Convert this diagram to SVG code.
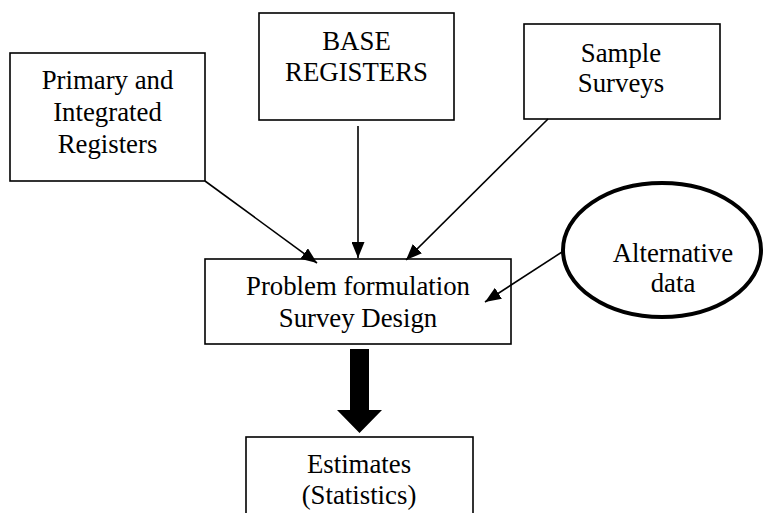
<svg xmlns="http://www.w3.org/2000/svg" width="765" height="513" viewBox="0 0 765 513">
<style>
.box{fill:#fff;stroke:#000;stroke-width:1.6}
.t{font-family:"Liberation Serif","Times New Roman","DejaVu Serif",serif;font-size:26.8px;fill:#000;text-anchor:middle}
.c{stroke:#000;stroke-width:1.6;fill:none;marker-end:url(#ah)}
</style>
<defs>
<marker id="ah" viewBox="0 0 16 13" refX="16" refY="6.5" markerWidth="16" markerHeight="13" markerUnits="userSpaceOnUse" orient="auto">
<path d="M0,0 L16,6.5 L0,13 Z" fill="#000"/>
</marker>
</defs>
<rect width="765" height="513" fill="#fff"/>
<g id="primary">
<rect class="box" x="10" y="53" width="195" height="128"/>
<text class="t" x="107.5" y="89">Primary and</text>
<text class="t" x="107.5" y="121">Integrated</text>
<text class="t" x="107.5" y="153">Registers</text>
</g>
<g id="base">
<rect class="box" x="259" y="13" width="195" height="107"/>
<text class="t" x="356.5" y="50">BASE</text>
<text class="t" x="356.5" y="81">REGISTERS</text>
</g>
<g id="sample">
<rect class="box" x="524" y="24" width="196" height="95"/>
<text class="t" x="621" y="62">Sample</text>
<text class="t" x="621" y="92">Surveys</text>
</g>
<g id="alternative">
<ellipse cx="662" cy="250" rx="99" ry="67" fill="#fff" stroke="#000" stroke-width="4"/>
<text class="t" x="673" y="262">Alternative</text>
<text class="t" x="673" y="292">data</text>
</g>
<g id="problem">
<rect class="box" x="205" y="259" width="306" height="85"/>
<text class="t" x="358" y="295">Problem formulation</text>
<text class="t" x="358" y="327">Survey Design</text>
</g>
<g id="estimates">
<rect class="box" x="246" y="437" width="227" height="90"/>
<text class="t" x="359" y="473">Estimates</text>
<text class="t" x="359" y="504">(Statistics)</text>
</g>
<g id="connectors">
<line class="c" x1="205" y1="181" x2="317" y2="263"/>
<line class="c" x1="358" y1="126" x2="358" y2="258"/>
<line class="c" x1="548" y1="119" x2="406" y2="260"/>
<line class="c" x1="562" y1="252" x2="485" y2="302"/>
<path d="M350,349 H369 V410 H382 L359.5,433 L337,410 H350 Z" fill="#000"/>
</g>
</svg>
